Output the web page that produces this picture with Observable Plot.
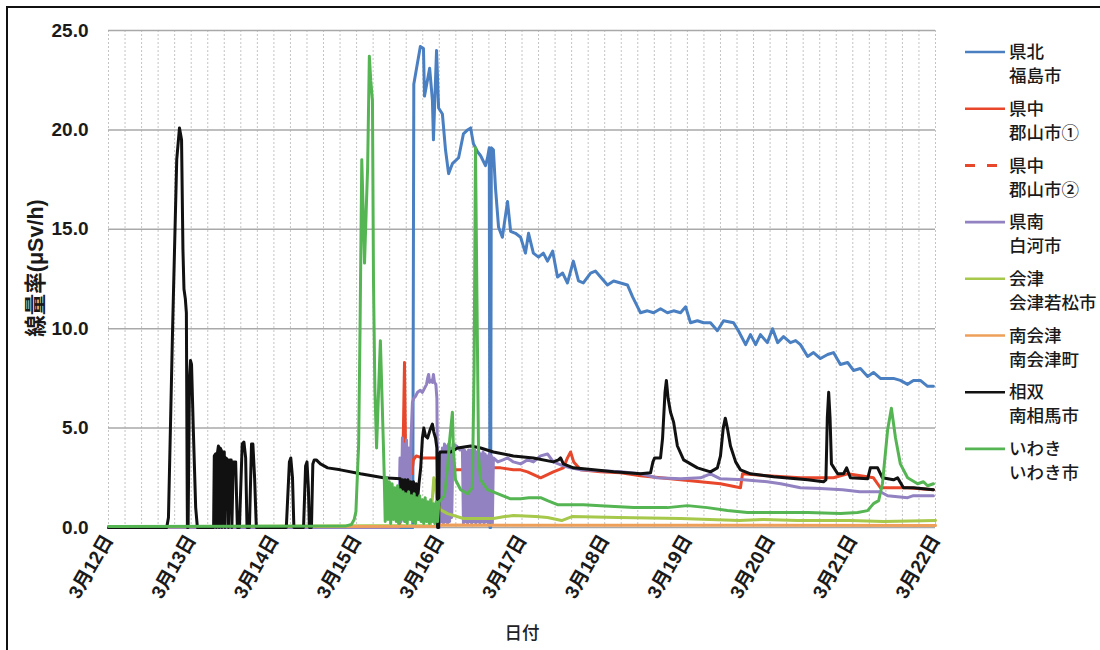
<!DOCTYPE html>
<html><head><meta charset="utf-8">
<script src="https://cdn.jsdelivr.net/npm/d3@7"></script>
<script src="https://cdn.jsdelivr.net/npm/@observablehq/plot@0.6"></script>
<style>
body{margin:0;background:#fff;width:1100px;height:650px;overflow:hidden;position:relative;font-family:"Liberation Sans","Noto Sans CJK JP",sans-serif;}
#frame{position:absolute;left:6px;top:6px;width:1200px;height:700px;border-left:2px solid #111;border-top:2px solid #111;}
#chart{position:absolute;left:0;top:0;}
#legend{position:absolute;left:0;top:0;}
#xtitle{position:absolute;left:522px;top:631px;transform:translate(-50%,-50%);font-size:17.5px;font-weight:500;font-family:"Noto Sans CJK JP",sans-serif;color:#222;white-space:nowrap;}
#ytitle{position:absolute;left:33px;top:268px;transform:translate(-50%,-50%) rotate(-90deg);font-size:21.5px;font-weight:bold;font-family:"Liberation Sans","Noto Sans CJK JP",sans-serif;color:#1a1a1a;white-space:nowrap;}
</style></head><body>
<div id="frame"></div>
<div id="chart"></div>
<svg id="legend" width="1100" height="650"></svg>
<div id="xtitle">日付</div>
<div id="ytitle">線量率(μSv/h)</div>
<script>
// x = hours since 3/12 00:00, y = µSv/h
const dayLabels = ["3月12日","3月13日","3月14日","3月15日","3月16日","3月17日","3月18日","3月19日","3月20日","3月21日","3月22日"];
const yTicks = [0, 5, 10, 15, 20, 25];
const seriesNames = [["県北","福島市"],["県中","郡山市①"],["県中","郡山市②"],["県南","白河市"],["会津","会津若松市"],["南会津","南会津町"],["相双","南相馬市"],["いわき","いわき市"]];
const seriesColors = ["#4a7fc1","#e8472b","#e8472b","#9282c2","#a6c84b","#ee9f5a","#111111","#55b553"];

const fukushima = [[0,0],[88.3,0],[88.6,22.3],[89.3,23.0],[90.5,24.2],[91.4,24.1],[91.7,21.7],[93.2,23.1],[94.0,21.5],[94.3,19.5],[95.2,24.0],[95.8,21.1],[96.9,20.8],[97.8,19.0],[98.7,17.8],[99.8,18.3],[101.6,18.6],[103.0,19.8],[104.2,20.0],[105.1,20.1],[105.9,19.3],[107.1,18.9],[108.0,18.7],[109.4,18.2],[110.0,18.6],[110.5,19.1],[110.7,0],[110.9,0],[111.1,19.1],[111.7,19.0],[112.3,17.1],[113.2,15.1],[114.3,14.6],[115.8,16.4],[116.7,14.9],[118.1,14.8],[119.6,14.6],[121.0,13.8],[121.9,14.8],[123.3,13.8],[124.8,13.6],[126.2,13.8],[127.4,13.4],[128.9,13.9],[130.3,12.6],[131.8,12.8],[133.2,12.3],[134.9,13.4],[136.4,12.4],[137.8,12.3],[139.9,12.8],[141.3,12.9],[142.8,12.6],[144.8,12.2],[146.6,12.4],[148.6,12.3],[150.6,12.2],[152.1,11.6],[154.4,10.8],[156.4,10.9],[158.2,10.8],[160.2,11.0],[162.2,10.8],[164.0,10.9],[166.0,10.8],[167.5,11.1],[168.9,10.3],[170.9,10.4],[172.7,10.3],[174.7,10.3],[176.7,9.9],[178.5,10.4],[181.4,10.3],[182.8,9.9],[184.9,9.2],[186.3,9.7],[187.8,9.2],[189.2,9.7],[191.2,9.3],[192.7,10.0],[194.2,9.3],[195.9,9.6],[197.9,9.3],[199.4,9.4],[200.8,9.2],[202.9,8.6],[204.6,8.8],[206.6,8.5],[208.7,8.7],[210.4,8.8],[212.4,8.2],[214.5,8.3],[216.2,7.9],[218.2,8.0],[220.3,7.6],[222.0,7.8],[224.0,7.5],[226.1,7.5],[227.8,7.5],[229.8,7.4],[231.9,7.2],[233.6,7.4],[235.6,7.4],[237.7,7.1],[239.4,7.1]];

const koriyama1 = [[0,0.03],[84.5,0.05],[85.0,1.8],[85.3,3.0],[85.6,5.0],[85.9,8.3],[86.2,4.0],[86.5,2.6],[86.8,3.8],[87.2,2.5],[87.6,3.9],[88.0,2.7],[88.5,3.4],[89.3,3.6],[91.0,3.5],[93.0,3.5],[95.5,3.5],[96.3,3.4],[97.8,2.8],[100.0,2.9],[102.2,2.9],[106.5,3.0],[110.9,3.0],[113.8,3.0],[117.5,2.9],[119.6,2.9],[121.6,2.8],[125.4,2.5],[129.1,2.8],[132.0,3.0],[133.2,3.5],[134.1,3.8],[135.0,3.3],[137.0,2.9],[142.8,2.8],[148.6,2.75],[154.4,2.6],[160.2,2.5],[166.0,2.4],[171.8,2.3],[177.6,2.2],[183.4,2.0],[184.0,2.7],[191.2,2.6],[200.8,2.5],[210.4,2.5],[214.5,2.7],[222.0,2.5],[224.0,2.0],[231.9,2.0],[239.4,1.9]];

const koriyama2 = [];

const shirakawa = [[0,0],[84.2,0],[84.6,3.5],[84.9,0.3],[85.3,4.5],[85.6,0.5],[85.9,4.2],[86.2,0.3],[86.5,4.4],[86.8,0.5],[87.1,4.0],[87.4,1.0],[87.8,4.5],[88.2,6.3],[88.6,6.5],[89.1,6.6],[89.7,6.8],[90.5,6.9],[91.1,6.8],[91.7,7.0],[92.3,7.2],[92.6,7.5],[92.9,7.7],[93.2,7.3],[93.7,7.4],[94.0,7.3],[94.3,7.7],[94.6,7.3],[95.0,7.2],[95.3,6.5],[95.6,0],[96.0,0],[96.3,3.8],[96.6,0.3],[96.9,4.0],[97.2,0.2],[97.5,4.2],[97.8,0.3],[98.1,4.1],[98.4,0.2],[98.7,4.2],[99.0,0.3],[99.3,4.0],[99.6,0.5],[100.0,4.2],[101.0,4.1],[102.0,3.9],[102.7,4.0],[103.0,0.2],[103.3,3.9],[103.6,0.3],[103.9,3.8],[104.2,0.2],[104.5,3.9],[104.8,0.3],[105.1,3.9],[105.4,0.2],[105.7,3.8],[106.0,0.3],[106.3,3.9],[106.6,0.2],[106.9,3.8],[107.2,0.3],[107.5,3.8],[107.8,0.2],[108.1,3.7],[108.4,0.3],[108.7,3.8],[109.0,0.2],[109.3,3.7],[109.6,0.3],[109.9,3.6],[110.2,0.2],[110.5,3.7],[110.8,0.3],[111.1,3.6],[111.4,0.2],[111.7,3.5],[113.0,3.3],[114.5,3.4],[115.8,3.5],[117.5,3.3],[119.6,3.2],[121.6,3.4],[123.3,3.3],[125.4,3.6],[127.4,3.7],[129.1,3.3],[132.0,3.1],[134.1,3.0],[137.0,2.9],[142.8,2.85],[148.6,2.8],[154.4,2.7],[159.1,2.5],[166.0,2.45],[171.8,2.5],[174.7,2.7],[177.6,2.45],[184.3,2.4],[191.2,2.3],[195.1,2.2],[200.8,2.0],[206.6,1.96],[213.0,1.9],[218.0,1.8],[224.0,1.8],[226.1,1.6],[231.9,1.5],[233.6,1.6],[239.4,1.6]];

const aizuwakamatsu = [[0,0.04],[93.4,0.1],[94.0,1.5],[94.4,2.5],[94.8,2.3],[95.2,1.5],[95.6,1.2],[96.3,0.9],[98.4,0.7],[103.0,0.45],[111.7,0.45],[115.0,0.55],[117.5,0.6],[124.0,0.55],[127.4,0.5],[131.5,0.35],[134.5,0.55],[148.0,0.5],[166.0,0.45],[183.0,0.35],[190.0,0.4],[200.0,0.35],[215.0,0.35],[225.0,0.3],[240.0,0.35]];

const minamiaizu = [[0,0.04],[60,0.05],[95,0.06],[96.5,0.12],[170,0.11],[240,0.1]];

const minamisoma = [[0,0],[16.9,0],[17.4,0.5],[18.6,10],[19.8,18.5],[20.6,20.1],[21.2,19.5],[21.6,14],[21.9,12.0],[22.3,11.5],[22.6,10.8],[22.8,3],[22.9,0],[23.1,0],[23.5,7.5],[23.8,8.4],[24.1,8.2],[24.6,5],[25.3,1],[25.8,0],[30.5,0],[30.7,3.6],[31.1,3.7],[31.3,0],[31.5,3.6],[31.9,4.1],[32.1,0],[32.4,4.0],[32.7,3.9],[32.9,0],[33.2,3.8],[33.6,3.8],[33.8,0],[34.1,3.5],[34.6,3.4],[34.8,0],[35.2,3.4],[35.6,3.4],[35.8,0],[36.2,3.3],[36.9,3.3],[37.4,0],[38.0,0],[38.8,4.2],[39.3,4.3],[39.8,3.5],[40.2,0],[40.9,0],[41.5,4.2],[41.9,4.2],[42.4,2.5],[42.9,0],[51.6,0],[52.5,3.3],[52.9,3.5],[53.4,2.5],[53.8,0],[56.6,0],[57.2,3.1],[57.6,3.3],[58.0,2],[58.3,0],[58.9,0],[59.3,3.2],[59.7,3.4],[60.3,3.4],[61.5,3.2],[63.6,3.0],[67.3,2.9],[73.1,2.7],[79.8,2.5],[84.7,2.45],[85.0,1.4],[85.4,2.4],[85.7,1.5],[86.1,2.4],[86.5,1.4],[86.9,2.4],[87.3,1.5],[87.7,2.3],[88.1,1.4],[88.5,2.3],[88.9,1.5],[89.3,2.2],[89.7,1.4],[90.1,2.2],[90.6,3.0],[91.1,4.5],[91.5,5.0],[92.0,4.6],[92.6,4.5],[93.3,4.9],[94.0,5.2],[94.4,4.8],[94.9,4.5],[95.3,4.0],[95.5,0],[95.8,0],[96.0,3.7],[96.3,3.8],[99.3,3.8],[101.3,4.0],[105.1,4.1],[108.0,4.0],[111.7,3.8],[117.5,3.6],[123.3,3.5],[129.1,3.3],[130.6,3.4],[131.2,3.5],[132.0,3.2],[134.9,3.0],[140.8,2.9],[146.6,2.8],[154.4,2.7],[157.3,2.75],[158.0,3.3],[158.5,3.5],[160.2,3.5],[160.8,4.5],[161.5,6.8],[161.9,7.4],[162.4,6.5],[163.1,5.8],[164.0,5.3],[165.1,4.1],[166.9,3.4],[170.9,3.0],[174.7,2.8],[176.7,3.0],[177.6,3.6],[178.4,5.0],[179.0,5.5],[179.6,5.0],[180.5,4.1],[182.0,3.3],[183.4,2.9],[186.3,2.7],[193.0,2.55],[202.9,2.4],[207.5,2.3],[208.2,2.4],[208.6,5.5],[209.0,6.8],[209.4,5.5],[209.8,3.2],[211.6,2.7],[213.3,2.7],[214.2,3.0],[215.3,2.5],[220.3,2.45],[221.1,3.0],[223.2,3.0],[224.6,2.5],[227.8,2.4],[229.0,2.5],[230.7,2.0],[233.6,2.0],[239.4,1.9]];

const iwaki = [[0,0.05],[69,0.08],[70.5,0.15],[71.3,0.4],[71.8,0.8],[72.2,2.5],[72.6,4.2],[73.0,10],[73.5,18.5],[73.9,16],[74.3,13.3],[74.8,16],[75.2,18.1],[75.7,23.7],[76.1,22.5],[76.6,21.5],[76.9,12.4],[77.3,7],[77.8,4.0],[78.4,7],[78.9,9.4],[79.3,7],[79.8,4.0],[80.0,2.7],[80.3,0.3],[80.7,2.5],[81.1,0.4],[81.5,2.3],[81.9,0.2],[82.3,2.2],[82.7,0.4],[83.1,2.0],[83.5,0.3],[83.9,2.1],[84.3,0.2],[84.7,1.9],[85.1,0.4],[85.5,1.8],[85.9,0.3],[86.3,1.7],[86.7,0.2],[87.1,1.8],[87.5,0.4],[87.9,1.6],[88.3,0.3],[88.7,1.7],[89.1,0.2],[89.5,1.5],[89.9,0.4],[90.3,1.6],[90.7,0.3],[91.1,1.4],[91.5,0.2],[91.9,1.5],[92.3,0.3],[92.7,1.3],[93.1,0.2],[93.5,1.4],[93.9,0.3],[94.3,1.2],[94.7,0.2],[95.1,1.3],[95.5,0.3],[95.9,1.3],[96.3,1.35],[97.5,1.6],[98.4,3.0],[99.0,4.4],[99.8,5.8],[100.1,3.9],[100.7,2.4],[102.2,1.9],[104.2,1.7],[105.6,2.0],[106.1,8],[106.5,19.1],[106.9,12],[107.4,3.5],[108.0,2.4],[110.0,1.9],[112.9,1.7],[116.5,1.45],[119.6,1.45],[122.0,1.5],[125.4,1.5],[127.4,1.35],[130.3,1.15],[137.8,1.15],[142.8,1.1],[152.4,1.0],[162.2,1.0],[168.0,1.1],[173.8,1.0],[179.6,0.85],[185.4,0.75],[193.0,0.75],[202.9,0.75],[212.4,0.7],[217.4,0.75],[220.3,0.85],[222.0,1.2],[223.5,1.35],[224.6,2.2],[226.1,4.9],[227.2,6.0],[228.4,4.5],[229.8,3.2],[231.9,2.5],[234.8,2.2],[236.5,2.3],[237.7,2.1],[239.4,2.2]];

const seriesData = [fukushima, koriyama1, koriyama2, shirakawa, aizuwakamatsu, minamiaizu, minamisoma, iwaki];
const seriesDash = [null, null, "10,12", null, null, null, null, null];

const dayTicks = dayLabels.map((_, i) => i * 24);
const gridHours = d3.range(0, 240.01, 4.8);

const lineMarks = seriesData.map((data, i) =>
  Plot.line(data, {x: d => d[0], y: d => d[1], stroke: seriesColors[i], strokeWidth: 3,
    strokeDasharray: seriesDash[i] || undefined, strokeLinejoin: "round"}));

const chart = Plot.plot({
  width: 945, height: 650,
  marginLeft: 108, marginRight: 10, marginTop: 30, marginBottom: 123,
  style: {fontFamily: "'Liberation Sans','Noto Sans CJK JP',sans-serif", fontSize: "19px", fontWeight: "bold", color: "#1a1a1a", background: "transparent", overflow: "visible"},
  x: {domain: [0, 240]},
  y: {domain: [0, 25]},
  marks: [
    Plot.ruleX(gridHours, {stroke: "#c4c4c4", strokeDasharray: "2,2", strokeWidth: 1}),
    Plot.ruleY(yTicks, {stroke: "#a9a9a9", strokeWidth: 1.5}),
    Plot.axisY({ticks: yTicks, tickFormat: d3.format(".1f"), tickSize: 0, tickPadding: 20, label: null}),
    Plot.axisX({ticks: dayTicks, tickFormat: d => dayLabels[Math.round(d / 24)], tickSize: 0, tickPadding: 9,
      tickRotate: -60, textAnchor: "end", label: null}),
    ...lineMarks
  ]
});
document.getElementById("chart").appendChild(chart);

// legend (right side)
const lg = d3.select("#legend");
const lx0 = 965, lx1 = 1005, tx = 1009, ly0 = 52, lstep = 56.7, lline = 24;
seriesNames.forEach((names, i) => {
  const y = ly0 + i * lstep;
  lg.append("line").attr("x1", lx0).attr("x2", lx1).attr("y1", y).attr("y2", y)
    .attr("stroke", seriesColors[i]).attr("stroke-width", seriesDash[i] ? 3 : 2.6)
    .attr("stroke-dasharray", seriesDash[i]);
  names.forEach((t, j) => {
    lg.append("text").attr("x", tx).attr("y", y + j * lline).attr("dy", "0.35em")
      .attr("font-family", "'Noto Sans CJK JP',sans-serif").attr("font-size", 17.5)
      .attr("font-weight", 500).attr("fill", "#1a1a1a")
      .text(t);
  });
});
</script>
</body></html>
